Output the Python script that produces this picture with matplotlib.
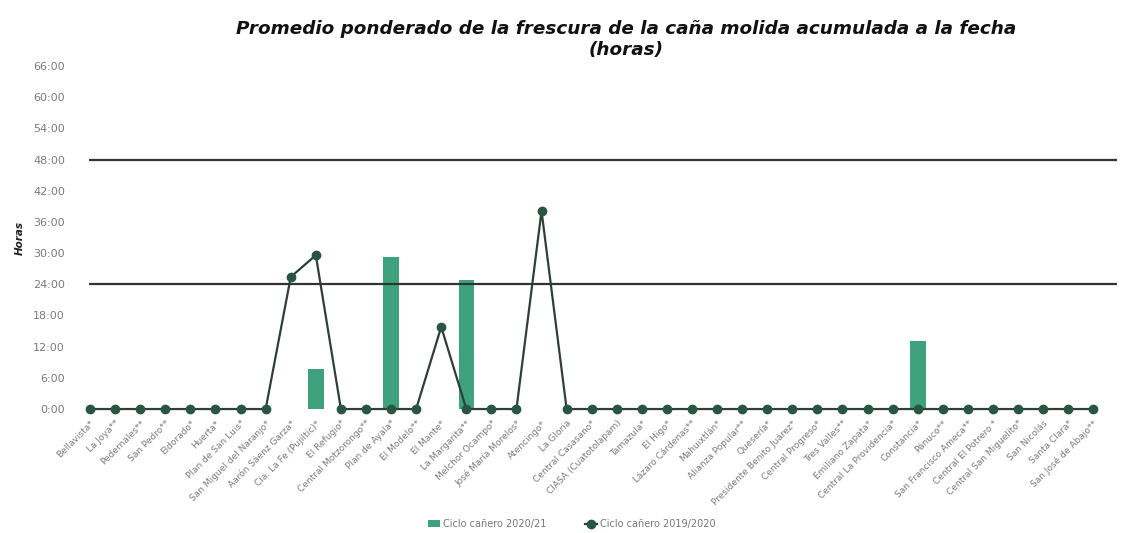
import matplotlib
matplotlib.use("Agg")
import matplotlib.pyplot as plt
import numpy as np

# Ingenios (ticks on the x axis)
ingenios = [
    "Bellavista*", "La Joya**", "Pedernales**", "San Pedro**", "Eldorado*",
    "Huerta*", "Plan de San Luis*", "San Miguel del Naranjo*", "Aarón Sáenz Garza*",
    "Cía. La Fe (Pujiltic)*", "El Refugio*", "Central Motzorongo**", "Plan de Ayala*",
    "El Modelo**", "El Mante*", "La Margarita**", "Melchor Ocampo*",
    "José María Morelos*", "Atencingo*", "La Gloria", "Central Casasano*",
    "CIASA (Cuatotolapam)", "Tamazula*", "El Higo*", "Lázaro Cárdenas**",
    "Mahuixtlán*", "Alianza Popular**", "Quesería*", "Presidente Benito Juárez*",
    "Central Progreso*", "Tres Valles**", "Emiliano Zapata*",
    "Central La Providencia*", "Constancia*", "Pánuco**", "San Francisco Ameca**",
    "Central El Potrero *", "Central San Miguelito*", "San Nicolás",
    "Santa Clara*", "San José de Abajo**",
]

# Horas, ciclo 2020/21 (barras)
ciclo_2021 = [0] * 41
ciclo_2021[9] = 7.7
ciclo_2021[12] = 29.2
ciclo_2021[15] = 24.8
ciclo_2021[33] = 13.1

# Horas, ciclo 2019/2020 (linea)
ciclo_2020 = [0] * 41
ciclo_2020[8] = 25.4
ciclo_2020[9] = 29.6
ciclo_2020[14] = 15.8
ciclo_2020[18] = 38.1

# Lineas de referencia
referencias = [24, 48]
yticks = list(range(0, 67, 6))

plt.rcParams["font.family"] = ["DejaVu Sans"]

fig = plt.figure(figsize=(11.24, 5.33), dpi=100)
ax = fig.add_axes([0.069, 0.2326, 0.926, 0.6436])

x = np.arange(len(ingenios))
bars = ax.bar(x, ciclo_2021, width=0.62, color="#3fa27f", label="Ciclo cañero 2020/21", zorder=2)
ax.hlines(referencias, -0.05, 40.95, color="#333333", linewidth=1.6, zorder=3)
line, = ax.plot(x, ciclo_2020, color="#2f3f38", linewidth=1.6, marker="o", markersize=6,
                markerfacecolor="#2a5443", markeredgecolor="#2a5443",
                label="Ciclo cañero 2019/2020", zorder=4, clip_on=False)

ax.set_xlim(-0.5, 41)
ax.set_ylim(0, 66)
ax.set_yticks(yticks)
ax.set_yticklabels([f"{h}:00" for h in yticks], fontsize=8, color="#7a7a7a")
ax.set_xticks(x)
ax.set_xticklabels(ingenios, rotation=45, ha="right", rotation_mode="anchor",
                   fontsize=6.5, color="#7a7a7a")
ax.tick_params(axis="y", length=0, pad=9)
ax.tick_params(axis="x", length=0, pad=7)
for s in ax.spines.values():
    s.set_visible(False)

ax.set_ylabel("Horas", fontsize=7.5, fontweight="bold", style="italic", color="#222222",
              labelpad=6)

fig.text(0.557, 0.962, "Promedio ponderado de la frescura de la caña molida acumulada a la fecha\n(horas)",
         ha="center", va="top", fontsize=13.2, fontweight="bold", style="italic",
         color="#111111", linespacing=1.2)

ax.legend([bars, line], ["Ciclo cañero 2020/21", "Ciclo cañero 2019/2020"],
          loc="upper center", bbox_to_anchor=(0.475, -0.295), ncol=2, frameon=False,
          fontsize=7, labelcolor="#777777", handlelength=1.2, handletextpad=0.3,
          columnspacing=4)

fig.savefig("out.png", dpi=100, facecolor="white")
